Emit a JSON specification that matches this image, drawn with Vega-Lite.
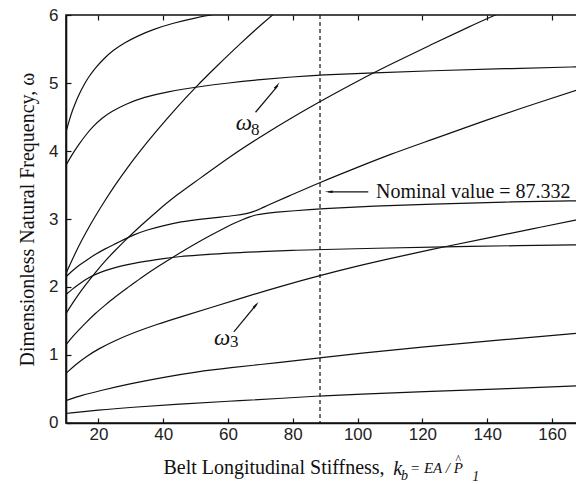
{
  "$schema": "https://vega.github.io/schema/vega-lite/v6.json",
  "width": 518.4,
  "height": 408,
  "autosize": "none",
  "padding": {"left": 66, "top": 15, "right": 0, "bottom": 61},
  "background": "white",
  "config": {
    "view": {"stroke": "#111", "strokeWidth": 1.6},
    "axis": {
      "grid": false,
      "domainColor": "#111",
      "domainWidth": 1.6,
      "tickColor": "#111",
      "tickWidth": 1.2,
      "tickSize": -5,
      "labelFont": "Liberation Sans",
      "labelFontSize": 17,
      "labelColor": "#222",
      "titleFont": "Liberation Serif",
      "titleFontSize": 20,
      "titleFontWeight": "normal",
      "titleColor": "#111"
    }
  },
  "datasets": {
    "curves": [
      {"curve": "c1", "x": 10, "y": 0.14}, {"curve": "c1", "x": 20, "y": 0.19}, {"curve": "c1", "x": 30, "y": 0.23}, {"curve": "c1", "x": 45, "y": 0.28}, {"curve": "c1", "x": 60, "y": 0.32}, {"curve": "c1", "x": 76, "y": 0.36}, {"curve": "c1", "x": 88.5, "y": 0.40}, {"curve": "c1", "x": 100, "y": 0.42}, {"curve": "c1", "x": 120, "y": 0.46}, {"curve": "c1", "x": 144, "y": 0.50}, {"curve": "c1", "x": 170, "y": 0.55},
      {"curve": "c2", "x": 10, "y": 0.33}, {"curve": "c2", "x": 15, "y": 0.41}, {"curve": "c2", "x": 20, "y": 0.47}, {"curve": "c2", "x": 30, "y": 0.58}, {"curve": "c2", "x": 41, "y": 0.68}, {"curve": "c2", "x": 50, "y": 0.75}, {"curve": "c2", "x": 60, "y": 0.81}, {"curve": "c2", "x": 76, "y": 0.89}, {"curve": "c2", "x": 88.5, "y": 0.96}, {"curve": "c2", "x": 100, "y": 1.02}, {"curve": "c2", "x": 120, "y": 1.12}, {"curve": "c2", "x": 144, "y": 1.22}, {"curve": "c2", "x": 170, "y": 1.33},
      {"curve": "c3", "x": 10, "y": 0.73}, {"curve": "c3", "x": 13, "y": 0.86}, {"curve": "c3", "x": 16, "y": 0.97}, {"curve": "c3", "x": 20, "y": 1.09}, {"curve": "c3", "x": 25, "y": 1.21}, {"curve": "c3", "x": 31, "y": 1.33}, {"curve": "c3", "x": 38, "y": 1.45}, {"curve": "c3", "x": 45.3, "y": 1.56}, {"curve": "c3", "x": 55, "y": 1.70}, {"curve": "c3", "x": 65, "y": 1.85}, {"curve": "c3", "x": 76.2, "y": 2.01}, {"curve": "c3", "x": 88.5, "y": 2.17}, {"curve": "c3", "x": 100, "y": 2.31}, {"curve": "c3", "x": 113, "y": 2.45}, {"curve": "c3", "x": 126.6, "y": 2.59}, {"curve": "c3", "x": 140, "y": 2.72}, {"curve": "c3", "x": 153.4, "y": 2.85}, {"curve": "c3", "x": 170, "y": 3.01},
      {"curve": "c4", "x": 10, "y": 1.89}, {"curve": "c4", "x": 12, "y": 1.97}, {"curve": "c4", "x": 14, "y": 2.04}, {"curve": "c4", "x": 16, "y": 2.11}, {"curve": "c4", "x": 18.7, "y": 2.18}, {"curve": "c4", "x": 22, "y": 2.24}, {"curve": "c4", "x": 26, "y": 2.30}, {"curve": "c4", "x": 30, "y": 2.34}, {"curve": "c4", "x": 35, "y": 2.38}, {"curve": "c4", "x": 40, "y": 2.42}, {"curve": "c4", "x": 45.3, "y": 2.45}, {"curve": "c4", "x": 51.5, "y": 2.47}, {"curve": "c4", "x": 60, "y": 2.50}, {"curve": "c4", "x": 70, "y": 2.52}, {"curve": "c4", "x": 80, "y": 2.54}, {"curve": "c4", "x": 88.5, "y": 2.55}, {"curve": "c4", "x": 105, "y": 2.57}, {"curve": "c4", "x": 126.6, "y": 2.59}, {"curve": "c4", "x": 150, "y": 2.61}, {"curve": "c4", "x": 170, "y": 2.62},
      {"curve": "c5b", "x": 10, "y": 1.15}, {"curve": "c5b", "x": 12, "y": 1.27}, {"curve": "c5b", "x": 14, "y": 1.37}, {"curve": "c5b", "x": 16, "y": 1.47}, {"curve": "c5b", "x": 19, "y": 1.61}, {"curve": "c5b", "x": 22, "y": 1.73}, {"curve": "c5b", "x": 25, "y": 1.85}, {"curve": "c5b", "x": 29, "y": 1.99}, {"curve": "c5b", "x": 33, "y": 2.13}, {"curve": "c5b", "x": 38, "y": 2.29}, {"curve": "c5b", "x": 44, "y": 2.47}, {"curve": "c5b", "x": 50, "y": 2.64}, {"curve": "c5b", "x": 55, "y": 2.77}, {"curve": "c5b", "x": 59, "y": 2.87}, {"curve": "c5b", "x": 62, "y": 2.94}, {"curve": "c5b", "x": 64.5, "y": 2.99}, {"curve": "c5b", "x": 66.5, "y": 3.03}, {"curve": "c5b", "x": 68.5, "y": 3.06}, {"curve": "c5b", "x": 71, "y": 3.08}, {"curve": "c5b", "x": 75, "y": 3.10}, {"curve": "c5b", "x": 80, "y": 3.12}, {"curve": "c5b", "x": 88.5, "y": 3.15}, {"curve": "c5b", "x": 105, "y": 3.19}, {"curve": "c5b", "x": 122.5, "y": 3.22}, {"curve": "c5b", "x": 145, "y": 3.25}, {"curve": "c5b", "x": 170, "y": 3.27},
      {"curve": "c5a", "x": 10, "y": 2.15}, {"curve": "c5a", "x": 12, "y": 2.24}, {"curve": "c5a", "x": 14, "y": 2.32}, {"curve": "c5a", "x": 16.5, "y": 2.40}, {"curve": "c5a", "x": 18.7, "y": 2.47}, {"curve": "c5a", "x": 22, "y": 2.56}, {"curve": "c5a", "x": 25, "y": 2.63}, {"curve": "c5a", "x": 28, "y": 2.70}, {"curve": "c5a", "x": 31, "y": 2.77}, {"curve": "c5a", "x": 35, "y": 2.84}, {"curve": "c5a", "x": 39.8, "y": 2.90}, {"curve": "c5a", "x": 45.3, "y": 2.96}, {"curve": "c5a", "x": 52, "y": 3.00}, {"curve": "c5a", "x": 58, "y": 3.03}, {"curve": "c5a", "x": 62, "y": 3.05}, {"curve": "c5a", "x": 65.9, "y": 3.08}, {"curve": "c5a", "x": 68, "y": 3.11}, {"curve": "c5a", "x": 70, "y": 3.15}, {"curve": "c5a", "x": 73, "y": 3.22}, {"curve": "c5a", "x": 78, "y": 3.32}, {"curve": "c5a", "x": 88.5, "y": 3.54}, {"curve": "c5a", "x": 100, "y": 3.76}, {"curve": "c5a", "x": 110, "y": 3.95}, {"curve": "c5a", "x": 122.5, "y": 4.16}, {"curve": "c5a", "x": 140, "y": 4.46}, {"curve": "c5a", "x": 155, "y": 4.70}, {"curve": "c5a", "x": 170, "y": 4.93},
      {"curve": "c6", "x": 10, "y": 1.61}, {"curve": "c6", "x": 12, "y": 1.76}, {"curve": "c6", "x": 14, "y": 1.90}, {"curve": "c6", "x": 16, "y": 2.03}, {"curve": "c6", "x": 19, "y": 2.21}, {"curve": "c6", "x": 22, "y": 2.38}, {"curve": "c6", "x": 25, "y": 2.53}, {"curve": "c6", "x": 29, "y": 2.72}, {"curve": "c6", "x": 33, "y": 2.90}, {"curve": "c6", "x": 38, "y": 3.11}, {"curve": "c6", "x": 44, "y": 3.35}, {"curve": "c6", "x": 51.5, "y": 3.60}, {"curve": "c6", "x": 60, "y": 3.90}, {"curve": "c6", "x": 70, "y": 4.21}, {"curve": "c6", "x": 80, "y": 4.50}, {"curve": "c6", "x": 90, "y": 4.77}, {"curve": "c6", "x": 100, "y": 5.03}, {"curve": "c6", "x": 110, "y": 5.27}, {"curve": "c6", "x": 122.5, "y": 5.56}, {"curve": "c6", "x": 135, "y": 5.84}, {"curve": "c6", "x": 142, "y": 5.99}, {"curve": "c6", "x": 148, "y": 6.11},
      {"curve": "c7", "x": 10, "y": 2.20}, {"curve": "c7", "x": 12, "y": 2.41}, {"curve": "c7", "x": 14, "y": 2.61}, {"curve": "c7", "x": 16, "y": 2.79}, {"curve": "c7", "x": 19, "y": 3.04}, {"curve": "c7", "x": 22, "y": 3.27}, {"curve": "c7", "x": 25, "y": 3.49}, {"curve": "c7", "x": 29, "y": 3.76}, {"curve": "c7", "x": 33, "y": 4.01}, {"curve": "c7", "x": 38, "y": 4.30}, {"curve": "c7", "x": 44, "y": 4.63}, {"curve": "c7", "x": 50, "y": 4.94}, {"curve": "c7", "x": 57, "y": 5.27}, {"curve": "c7", "x": 64, "y": 5.59}, {"curve": "c7", "x": 71, "y": 5.89}, {"curve": "c7", "x": 74, "y": 6.01}, {"curve": "c7", "x": 78, "y": 6.17},
      {"curve": "c8", "x": 10, "y": 3.79}, {"curve": "c8", "x": 12, "y": 3.96}, {"curve": "c8", "x": 14, "y": 4.10}, {"curve": "c8", "x": 16, "y": 4.23}, {"curve": "c8", "x": 18.5, "y": 4.37}, {"curve": "c8", "x": 21, "y": 4.48}, {"curve": "c8", "x": 24, "y": 4.58}, {"curve": "c8", "x": 28.9, "y": 4.70}, {"curve": "c8", "x": 34, "y": 4.79}, {"curve": "c8", "x": 41, "y": 4.87}, {"curve": "c8", "x": 51.5, "y": 4.95}, {"curve": "c8", "x": 60, "y": 5.00}, {"curve": "c8", "x": 70, "y": 5.05}, {"curve": "c8", "x": 80, "y": 5.09}, {"curve": "c8", "x": 88.5, "y": 5.12}, {"curve": "c8", "x": 105, "y": 5.15}, {"curve": "c8", "x": 122.5, "y": 5.18}, {"curve": "c8", "x": 145, "y": 5.21}, {"curve": "c8", "x": 170, "y": 5.24},
      {"curve": "c9", "x": 10, "y": 4.28}, {"curve": "c9", "x": 11, "y": 4.45}, {"curve": "c9", "x": 12, "y": 4.60}, {"curve": "c9", "x": 13, "y": 4.72}, {"curve": "c9", "x": 14, "y": 4.83}, {"curve": "c9", "x": 15.5, "y": 4.97}, {"curve": "c9", "x": 17, "y": 5.09}, {"curve": "c9", "x": 19, "y": 5.22}, {"curve": "c9", "x": 21.5, "y": 5.35}, {"curve": "c9", "x": 24.5, "y": 5.48}, {"curve": "c9", "x": 28, "y": 5.59}, {"curve": "c9", "x": 32, "y": 5.69}, {"curve": "c9", "x": 37, "y": 5.79}, {"curve": "c9", "x": 43, "y": 5.88}, {"curve": "c9", "x": 50, "y": 5.96}, {"curve": "c9", "x": 56, "y": 6.01}, {"curve": "c9", "x": 60, "y": 6.05}
    ],
    "arrows": [
      {"x": 68.5, "y": 4.57, "x2": 75.4, "y2": 4.96},
      {"x": 61.8, "y": 1.34, "x2": 68.9, "y2": 1.75},
      {"x": 91.0, "y": 3.40, "x2": 103.3, "y2": 3.40}
    ],
    "heads": [
      {"x": 75.2, "y": 4.965, "dir": 39},
      {"x": 68.67, "y": 1.738, "dir": 40},
      {"x": 91.1, "y": 3.40, "dir": 270}
    ]
  },
  "layer": [
    {
      "layer": [
        {
          "data": {"name": "curves"},
          "mark": {"type": "line", "color": "#111", "strokeWidth": 1.2, "interpolate": "basis", "clip": true},
          "encoding": {
            "x": {"field": "x", "type": "quantitative", "scale": {"domain": [10, 170], "nice": false, "zero": false},
                  "axis": {"values": [20, 40, 60, 80, 100, 120, 140, 160], "labelPadding": 9, "title": "Belt Longitudinal Stiffness,", "titleAlign": "left", "titleAnchor": "start", "titleX": 97, "titleY": 51, "titleBaseline": "alphabetic"}},
            "y": {"field": "y", "type": "quantitative", "scale": {"domain": [0, 6], "nice": false, "zero": false},
                  "axis": {"values": [0, 1, 2, 3, 4, 5, 6], "format": "d", "labelPadding": 13, "title": "Dimensionless Natural Frequency, ω", "titlePadding": 11}},
            "detail": {"field": "curve"}
          }
        },
        {
          "data": {"values": [{"x": 88.4}]},
          "mark": {"type": "rule", "color": "#111", "strokeWidth": 1.2, "strokeDash": [4, 3]},
          "encoding": {"x": {"field": "x", "type": "quantitative"}}
        },
        {
          "data": {"name": "arrows"},
          "mark": {"type": "rule", "color": "#111", "strokeWidth": 1.2},
          "encoding": {
            "x": {"field": "x", "type": "quantitative"},
            "y": {"field": "y", "type": "quantitative"},
            "x2": {"field": "x2"},
            "y2": {"field": "y2"}
          }
        },
        {
          "data": {"name": "heads"},
          "mark": {"type": "point", "shape": "M0,-1L0.32,1L-0.32,1Z", "filled": true, "color": "#111", "size": 64, "opacity": 1},
          "encoding": {
            "x": {"field": "x", "type": "quantitative"},
            "y": {"field": "y", "type": "quantitative"},
            "angle": {"field": "dir", "type": "quantitative", "scale": null}
          }
        },
        {
          "data": {"values": [{"x": 105.7, "y": 3.40, "label": "Nominal value = 87.332"}]},
          "mark": {"type": "text", "font": "Liberation Serif", "fontSize": 20, "align": "left", "baseline": "middle", "color": "#111", "clip": false},
          "encoding": {"x": {"field": "x", "type": "quantitative"}, "y": {"field": "y", "type": "quantitative"}, "text": {"field": "label"}}
        },
        {
          "data": {"values": [{"x": 64.9, "y": 4.41, "label": "ω"}, {"x": 58.2, "y": 1.257, "label": "ω"}]},
          "mark": {"type": "text", "font": "Liberation Serif", "fontStyle": "italic", "fontSize": 23, "align": "center", "baseline": "middle", "color": "#111"},
          "encoding": {"x": {"field": "x", "type": "quantitative"}, "y": {"field": "y", "type": "quantitative"}, "text": {"field": "label"}}
        },
        {
          "data": {"values": [{"x": 68.4, "y": 4.31, "label": "8"}, {"x": 61.9, "y": 1.185, "label": "3"}]},
          "mark": {"type": "text", "font": "Liberation Serif", "fontSize": 17, "align": "center", "baseline": "middle", "color": "#111"},
          "encoding": {"x": {"field": "x", "type": "quantitative"}, "y": {"field": "y", "type": "quantitative"}, "text": {"field": "label"}}
        },
        {
          "data": {"values": [{"x": 111.0, "y": -0.765, "label": "k"}]},
          "mark": {"type": "text", "font": "Liberation Serif", "fontStyle": "italic", "fontSize": 20, "align": "left", "baseline": "alphabetic", "color": "#111", "clip": false},
          "encoding": {"x": {"field": "x", "type": "quantitative"}, "y": {"field": "y", "type": "quantitative"}, "text": {"field": "label"}}
        },
        {
          "data": {"values": [{"x": 113.4, "y": -0.838, "label": "b"}, {"x": 135.4, "y": -0.855, "label": "1"}]},
          "mark": {"type": "text", "font": "Liberation Serif", "fontStyle": "italic", "fontSize": 14, "align": "left", "baseline": "alphabetic", "color": "#111", "clip": false},
          "encoding": {"x": {"field": "x", "type": "quantitative"}, "y": {"field": "y", "type": "quantitative"}, "text": {"field": "label"}}
        },
        {
          "data": {"values": [{"x": 116.2, "y": -0.735, "label": "= EA / P"}]},
          "mark": {"type": "text", "font": "Liberation Serif", "fontStyle": "italic", "fontSize": 15, "align": "left", "baseline": "alphabetic", "color": "#111", "clip": false},
          "encoding": {"x": {"field": "x", "type": "quantitative"}, "y": {"field": "y", "type": "quantitative"}, "text": {"field": "label"}}
        },
        {
          "data": {"values": [{"x": 131.1, "y": -0.53, "label": "^"}]},
          "mark": {"type": "text", "font": "Liberation Serif", "fontSize": 12, "align": "center", "baseline": "middle", "color": "#111", "clip": false},
          "encoding": {"x": {"field": "x", "type": "quantitative"}, "y": {"field": "y", "type": "quantitative"}, "text": {"field": "label"}}
        }
      ]
    },
    {
      "data": {"values": [{"x": 20}]},
      "mark": {"type": "point", "opacity": 0},
      "encoding": {
        "x": {"field": "x", "type": "quantitative", "scale": {"domain": [10, 170], "nice": false, "zero": false},
              "axis": {"orient": "top", "values": [20, 40, 60, 80, 100, 120, 140, 160], "labels": false, "title": null, "domain": false}}
      }
    }
  ],
  "resolve": {"axis": {"x": "independent"}}
}
